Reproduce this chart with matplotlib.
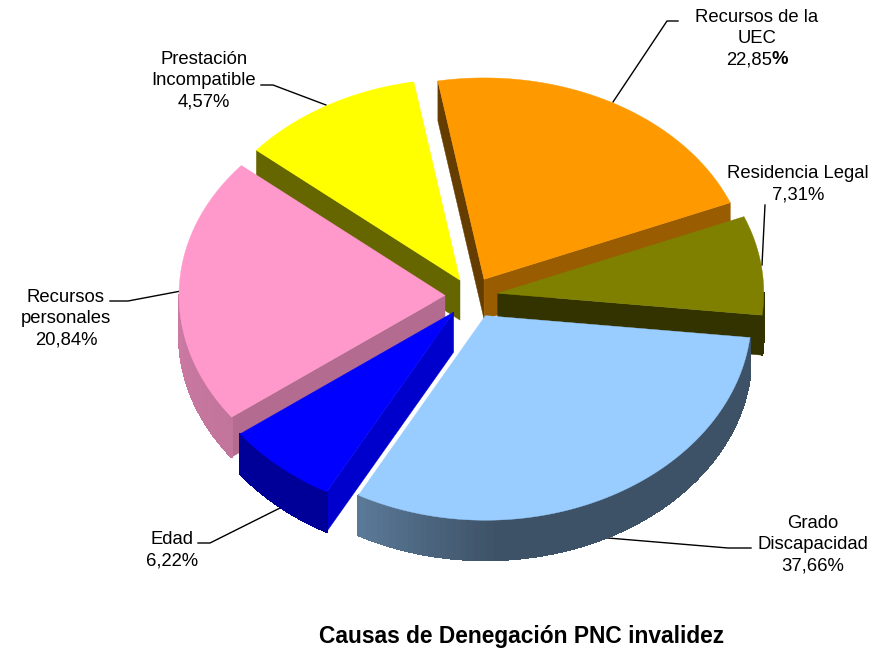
import matplotlib
matplotlib.use('Agg')
import matplotlib.pyplot as plt
from matplotlib.collections import PolyCollection
from matplotlib.colors import to_rgb
import numpy as np

plt.rcParams['font.family'] = ['Liberation Sans', 'DejaVu Sans']

# slices, clockwise from the top
names = [['Recursos de la', 'UEC'], ['Residencia Legal'], ['Grado', 'Discapacidad'],
         ['Edad'], ['Recursos', 'personales'], ['Prestación', 'Incompatible']]
pct_labels = ['22,85', '7,31%', '37,66%', '6,22%', '20,84%', '4,57%']
# share of the pie as drawn (not the same as the printed labels)
shares = [21.6, 7.9, 31.2, 6.9, 21.3, 11.1]
explode = [25, 26, 29, 28, 27, 24]
colors = ['#FF9900', '#808000', '#99CCFF', '#0000FF', '#FF99CC', '#FFFF00']
# shade of: clockwise-start face, clockwise-end face, wall at its start and end
face_a = [0.4, 0.4, 0.4, 0.8, 0.7, 0.4]
face_b = [0.6, 0.4, 0.4, 0.4, 0.4, 0.4]
wall_a = [0.6, 0.4, 0.4, 0.6, 0.76, 0.4]
wall_b = [0.6, 0.4, 0.6, 0.6, 0.8, 0.4]

label_x = [757, 798, 813, 172, 66, 204]
label_y = [17, 174, 523, 539, 297, 59]
leaders = [[(613, 102), (667, 21), (678, 21)],
           [(765, 205), (762, 265)],
           [(608, 538), (728, 548), (751, 548)],
           [(280, 508), (210, 543), (198, 543)],
           [(181, 291), (128, 301), (110, 301)],
           [(326, 105), (273, 85), (261, 85)]]

cx, cy = 472, 296
rx, ry = 266, 203
persp = 0.008
depth = 40
start = -10
tilt = ry / rx

fig = plt.figure(figsize=(8.76, 6.48), dpi=100)
ax = fig.add_axes([0, 0, 1, 1])
ax.set_xlim(0, 876)
ax.set_ylim(648, 0)
ax.axis('off')


def shade(col, k):
    return tuple(c * k for c in to_rgb(col))


def rim(ox, oy, ang):
    a = np.radians(ang)
    # front of the pie a little larger than the back
    return np.column_stack([ox + rx * np.sin(a), oy - ry * np.cos(a) * (1 - persp * np.cos(a))])


edges = start + np.cumsum([0] + shares) * 360 / sum(shares)
mids = (edges[:-1] + edges[1:]) / 2

for seg in leaders:
    ax.plot(*zip(*seg), color='black', lw=1.0, zorder=1)

# back slices first
for i in np.argsort(-np.cos(np.radians(mids))):
    a0, a1 = edges[i], edges[i + 1]
    m = np.radians(mids[i])
    ox = cx + explode[i] * np.sin(m)
    oy = cy - explode[i] * np.cos(m) * tilt
    col = colors[i]
    z = 2 + 0.01 * (1 - np.cos(m))

    # radial faces
    for ang, k, show in [(a0, face_a[i], np.sin(np.radians(a0)) < 0),
                         (a1, face_b[i], np.sin(np.radians(a1)) > 0)]:
        if show:
            p = rim(ox, oy, np.array([ang]))[0]
            ax.fill([ox, p[0], p[0], ox], [oy, p[1], p[1] + depth, oy + depth],
                    color=shade(col, k), lw=0.3, zorder=z)

    # outer wall, only the part that faces the viewer
    lo = max(a0, 90)
    hi = min(a1, 270)
    if hi > lo:
        angs = np.linspace(lo, hi, 80)
        pts = rim(ox, oy, angs)
        quads = []
        cols = []
        for j in range(len(angs) - 1):
            quads.append([pts[j], pts[j + 1], pts[j + 1] + (0, depth), pts[j] + (0, depth)])
            # gradient follows the clockwise angle, faster near the far end
            t = (angs[j] - lo) / (hi - lo)
            if wall_a[i] != wall_b[i] and i == 2:
                t = max(0, (t - 0.72) / 0.28)
            cols.append(shade(col, wall_a[i] + (wall_b[i] - wall_a[i]) * t))
        ax.add_collection(PolyCollection(quads, facecolors=cols, edgecolors=cols, linewidths=0.8,
                                         antialiased=False, zorder=z))

    # top
    arc = rim(ox, oy, np.linspace(a0, a1, 120))
    top = np.vstack([[ox, oy], arc])
    ax.fill(top[:, 0], top[:, 1], color=col, lw=0.3, zorder=z + 0.001)

# labels
fs = 13.3
line_h = 21.5
for i in range(len(names)):
    for j, line in enumerate(names[i]):
        ax.text(label_x[i], label_y[i] + j * line_h, line, ha='center', va='center',
                fontsize=fs, color='black', zorder=5)
    y = label_y[i] + len(names[i]) * line_h
    if pct_labels[i].endswith('%'):
        ax.text(label_x[i], y, pct_labels[i], ha='center', va='center', fontsize=fs, zorder=5)
    else:
        ax.text(label_x[i] + 15, y, pct_labels[i], ha='right', va='center', fontsize=fs, zorder=5)
        ax.text(label_x[i] + 15, y, '%', ha='left', va='center', fontsize=fs, fontweight='bold', zorder=5)

ax.text(522, 636, 'Causas de Denegación PNC invalidez', ha='center', va='center',
        fontsize=16.4, fontweight='bold', color='black')

fig.savefig('out.png', dpi=100)
